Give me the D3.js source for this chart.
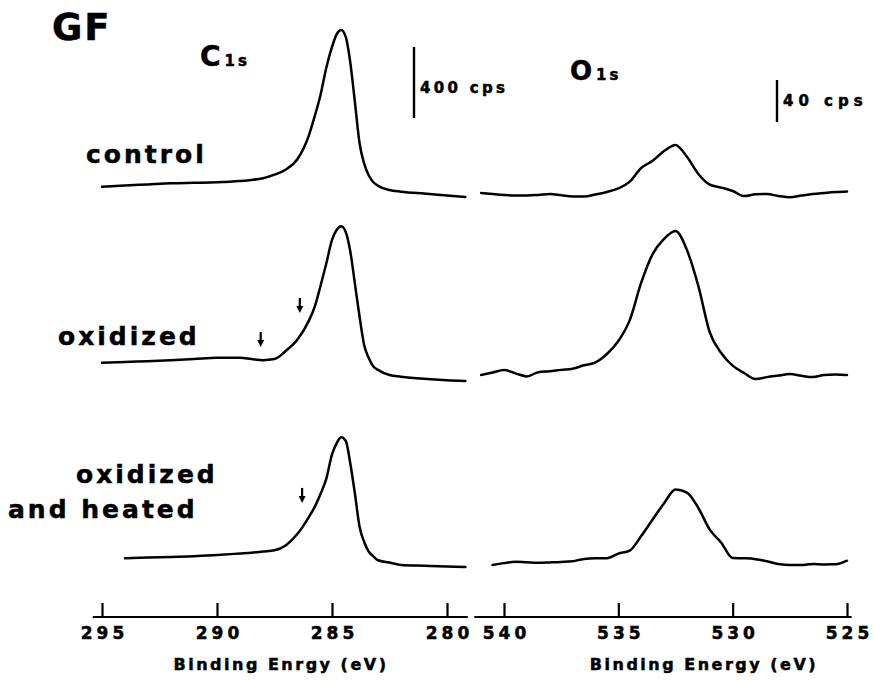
<!DOCTYPE html>
<html><head><meta charset="utf-8">
<script src="https://cdn.jsdelivr.net/npm/d3@7"></script>
<style>
body{margin:0;background:#fff;}
svg{display:block;}
text{font-family:"DejaVu Sans",sans-serif;font-weight:bold;fill:#000;stroke:#000;stroke-width:0.5px;}
</style></head><body>
<script>
// ---------- data ----------
const c1sEnergy = [295, 294, 293, 292, 291, 290, 289, 288.5, 288, 287.5, 287, 286.5, 286, 285.75, 285.5, 285.25, 285, 284.8, 284.6, 284.4, 284.2, 284, 283.8, 283.6, 283.4, 283.2, 283, 282.5, 282, 281, 280, 279.2];
const c1sControl  = [75, 82, 88, 94, 97, 100, 107, 113, 123, 143, 172, 231, 366, 473, 592, 744, 862, 933, 958, 917, 770, 547, 318, 205, 138, 100, 80, 56, 47, 36, 26, 17];
const c1sOxidized = [125, 130, 134, 139, 146, 154, 153, 146, 140, 146, 193, 256, 364, 441, 558, 683, 817, 873, 894, 861, 749, 567, 383, 224, 152, 104, 85, 56, 47, 35, 27, 23];
const c1sHeated   = [null, 95, 98, 102, 106, 113, 121, 125, 132, 139, 168, 232, 328, 384, 456, 541, 679, 742, 776, 755, 625, 455, 270, 186, 131, 105, 83, 70, 56, 52, 48, 45];

const o1sEnergy = [541, 540.5, 540, 539.5, 539, 538.5, 538, 537.5, 537, 536.5, 536, 535.5, 535, 534.5, 534, 533.5, 533, 532.5, 532, 531.5, 531, 530.5, 530, 529.5, 529, 528.5, 528, 527.5, 527, 526.5, 526, 525.5, 525];
const o1sControl  = [6.7, 5.7, 4.8, 4.3, 4.3, 4.8, 5.7, 4.6, 3.3, 3.3, 5.3, 7.6, 11.0, 17.5, 30.5, 37.3, 46.6, 52.4, 41.1, 24.8, 14.6, 11.8, 8.6, 3.8, 5.4, 5.7, 3.8, 2.6, 4.2, 5.7, 6.7, 7.6, 8.1];
const o1sOxidized = [9.5, 11.9, 14.3, 11.1, 8.2, 12.2, 13.1, 14.4, 15.4, 18.8, 21.5, 29.5, 41.9, 61.8, 97.5, 124.7, 139.2, 146.6, 128.5, 94.2, 50.0, 30.5, 18.4, 11.4, 5.7, 7.5, 9.0, 10.5, 8.8, 7.6, 9.5, 10.0, 9.5];
const o1sHeated   = [null, 9.5, 11.3, 12.6, 12.1, 11.7, 12.0, 12.4, 13.1, 15.3, 15.9, 15.9, 20.4, 23.3, 37.1, 52.9, 68.3, 81.5, 78.5, 63.8, 43.2, 30.8, 16.2, 15.9, 15.1, 13.1, 10.5, 9.5, 9.5, 10.5, 10.1, 10.2, 13.6];

const c1sTicks = [295, 290, 285, 280];
const o1sTicks = [540, 535, 530, 525];
const sampleLabels = [["control"], ["oxidized"], ["oxidized", "and heated"]];
const c1sArrows = [ {row: 1, energy: 288.1, cps: 214}, {row: 1, energy: 286.4, cps: 406}, {row: 2, energy: 286.3, cps: 406} ];
const c1sBar = {cps: 400, label: "400 cps"};
const o1sBar = {cps: 40, label: "40 cps"};
const xTitles = ["Binding Enrgy (eV)", "Binding Energy (eV)"];

// ---------- layout ----------
const W = 874, H = 680;
const svg = d3.select("body").append("svg").attr("width", W).attr("height", H);
const rowBase = [200, 385, 575];
const axisY = 617;

const xC = d3.scaleLinear().domain([295, 280]).range([102, 447]);
const xO = d3.scaleLinear().domain([540, 525]).range([504, 847]);
const yC = d3.scaleLinear().domain([0, 400]).range([0, -71]);
const yO = d3.scaleLinear().domain([0, 40]).range([0, -42]);

function drawSpectrum(energy, vals, x, y, row) {
  const pts = energy.map((e, i) => [e, vals[i]]);
  const line = d3.line()
    .defined(d => d[1] != null)
    .x(d => x(d[0]))
    .y(d => rowBase[row] + y(d[1]))
    .curve(d3.curveMonotoneX);
  svg.append("path").attr("d", line(pts))
    .attr("fill", "none").attr("stroke", "#000")
    .attr("stroke-width", 2.5).attr("stroke-linejoin", "round").attr("stroke-linecap", "round");
}
[c1sControl, c1sOxidized, c1sHeated].forEach((v, i) => drawSpectrum(c1sEnergy, v, xC, yC, i));
[o1sControl, o1sOxidized, o1sHeated].forEach((v, i) => drawSpectrum(o1sEnergy, v, xO, yO, i));

// axes
function drawAxis(x, ticks, ext, title, titleX) {
  const g = svg.append("g").attr("transform", `translate(0,${axisY})`);
  g.call(d3.axisBottom(x).tickValues(ticks).tickSize(-14).tickSizeOuter(0).tickPadding(10).tickFormat(d3.format("d")));
  g.select(".domain").remove();
  g.append("line").attr("x1", x(ext[0])).attr("x2", x(ext[1])).attr("y1", 0).attr("y2", 0)
    .attr("stroke", "#000").attr("stroke-width", 2.2);
  g.selectAll(".tick line").attr("stroke", "#000").attr("stroke-width", 2.2);
  g.selectAll(".tick text").attr("font-family", "DejaVu Sans").attr("font-weight", "bold")
    .attr("font-size", 17).attr("letter-spacing", 4).attr("dx", 2).attr("fill", "#000");
  svg.append("text").attr("x", titleX).attr("y", 670).attr("text-anchor", "middle")
    .attr("font-size", 16).attr("letter-spacing", 2.5).text(title);
}
drawAxis(xC, c1sTicks, [295.4, 279.1], xTitles[0], 281);
drawAxis(xO, o1sTicks, [541.3, 524.8], xTitles[1], 704);

// arrows
c1sArrows.forEach(a => {
  const ax = xC(a.energy), tip = rowBase[a.row] + yC(a.cps);
  svg.append("line").attr("x1", ax).attr("x2", ax).attr("y1", tip - 15).attr("y2", tip - 5)
    .attr("stroke", "#000").attr("stroke-width", 2.2);
  svg.append("path").attr("d", `M${ax - 3.5},${tip - 7}L${ax + 3.5},${tip - 7}L${ax},${tip}Z`).attr("fill", "#000");
});

// scale bars
function scaleBar(bx, bottom, y, bar, tx, ty, ls) {
  svg.append("line").attr("x1", bx).attr("x2", bx).attr("y1", bottom).attr("y2", bottom + y(bar.cps))
    .attr("stroke", "#000").attr("stroke-width", 2.4);
  svg.append("text").attr("x", tx).attr("y", ty).attr("font-size", 15).attr("letter-spacing", ls).text(bar.label);
}
scaleBar(414, 118, yC, c1sBar, 420, 93, 3.3);
scaleBar(777, 122, yO, o1sBar, 783, 106, 5);

// titles
svg.append("text").attr("x", 52).attr("y", 40).attr("font-size", 37).attr("letter-spacing", 2).text("GF");
const tC = svg.append("text").attr("x", 200).attr("y", 66);
tC.append("tspan").attr("font-size", 28).text("C");
tC.append("tspan").attr("font-size", 15).attr("dx", 4).attr("letter-spacing", 3).text("1s");
const tO = svg.append("text").attr("x", 570).attr("y", 80);
tO.append("tspan").attr("font-size", 26).text("O");
tO.append("tspan").attr("font-size", 15).attr("dx", 4).attr("letter-spacing", 3).text("1s");

// sample labels
const labelPos = [[[86, 163]], [[58, 345]], [[76, 483], [8, 518]]];
sampleLabels.forEach((lines, r) => {
  lines.forEach((t, j) => {
    svg.append("text").attr("x", labelPos[r][j][0]).attr("y", labelPos[r][j][1])
      .attr("font-size", 25).attr("letter-spacing", 3).text(t);
  });
});
</script>
</body></html>
